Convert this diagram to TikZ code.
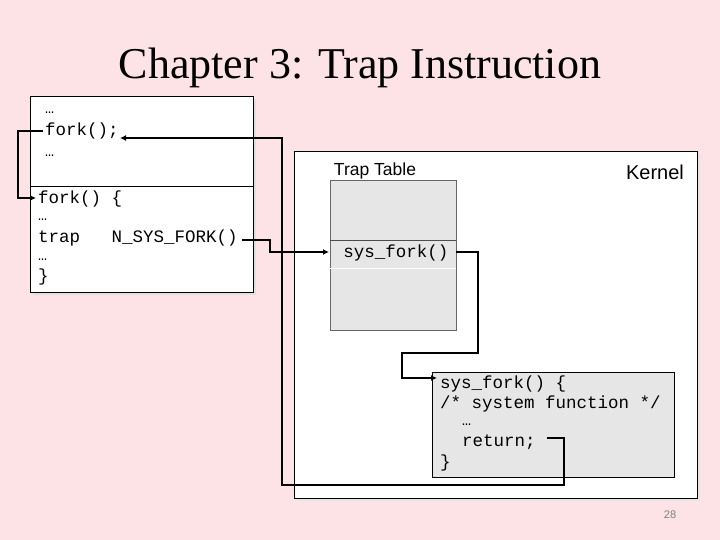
\documentclass[tikz,border=0pt]{standalone}
\usepackage{fontspec}
\setmainfont{Liberation Serif}
\setsansfont{Liberation Sans}
\setmonofont{Liberation Mono}
\usetikzlibrary{arrows.meta}
\definecolor{bg}{HTML}{FDE3E5}
\definecolor{tbl}{HTML}{E6E6E6}
\begin{document}
\begin{tikzpicture}[x=1pt,y=-1pt,
  box/.style={draw=black,line width=0.8pt},
  code/.style={anchor=west,inner sep=0pt,font=\ttfamily\fontsize{17.5}{17.5}\selectfont},
  dots/.style={anchor=west,inner sep=0pt,font=\ttfamily\fontsize{15}{15}\selectfont},
  conn/.style={line width=2.5pt,-{Latex[length=6pt,width=6pt]}}]
\fill[bg] (0,0) rectangle (720,540);
\useasboundingbox (0,0) rectangle (720,540);
\node[font=\fontsize{44}{44}\selectfont] (title) at (360,68) {Chapter 3: Trap Instruction};
% user box
\fill[black!12] (33,99) rectangle (256,295);
\draw[box,fill=white] (30,96) rectangle (253,292);
\draw[line width=0.8pt] (30,186) -- (253,186);
\node[dots] (d1) at (45,113) {…};
\node[code] (fk) at (45,131) {fork();};
\node[dots] (d2) at (45,156) {…};
\node[code] (fk2) at (38,199) {fork() \{};
\node[dots] (d3) at (38,220) {…};
\node[code] (tr) at (38,238) {trap\ \ \ N\_SYS\_FORK()};
\node[dots] (d4) at (38,260) {…};
\node[code] (cb) at (38,277) {\}};
% kernel
\fill[black!10] (297,154) rectangle (700,501);
\draw[box,fill=white] (294,151) rectangle (697,498);
\node[font=\sffamily\fontsize{20}{20}\selectfont] (kern) at (655,172) {Kernel};
\node[font=\sffamily\fontsize{17.5}{17.5}\selectfont] (tt) at (375,171) {Trap Table};
\draw[draw=black!60,line width=0.6pt,fill=tbl] (330,180) rectangle (456,330);
\draw[black!70,line width=0.6pt] (330,240) -- (456,240);
\draw[white,line width=0.8pt] (330,268) -- (456,268);
\node[code,anchor=center] (sf) at (396,253) {sys\_fork()};
% inner
\draw[box,fill=tbl] (432,372) rectangle (674,477);
\node[code] (s1) at (440,384) {sys\_fork() \{};
\node[code] (s2) at (440,404) {/* system function */};
\node[dots] (s3) at (462,425) {…};
\node[code] (s4) at (462,442) {return;};
\node[code] (s5) at (440,463) {\}};
\node[text=black!50,font=\sffamily\fontsize{11}{11}\selectfont] (pg) at (670,515) {28};
% connectors
\coordinate (c1a) at (43,131);
\coordinate (c1b) at (36,198);
\draw[conn] (c1a) -- (18,131) -- (18,198) -- (c1b);
\coordinate (c2a) at (242,240);
\coordinate (c2b) at (329,252);
\draw[conn] (c2a) -- (270,240) -- (270,252) -- (c2b);
\coordinate (c3a) at (456,252);
\coordinate (c3b) at (437,378);
\draw[conn] (c3a) -- (478,252) -- (478,353) -- (402,353) -- (402,378) -- (c3b);
\coordinate (c4a) at (547,438);
\coordinate (c4b) at (120,138);
\draw[conn] (c4a) -- (564,438) -- (564,485) -- (282,485) -- (282,138) -- (c4b);
\end{tikzpicture}
\end{document}
